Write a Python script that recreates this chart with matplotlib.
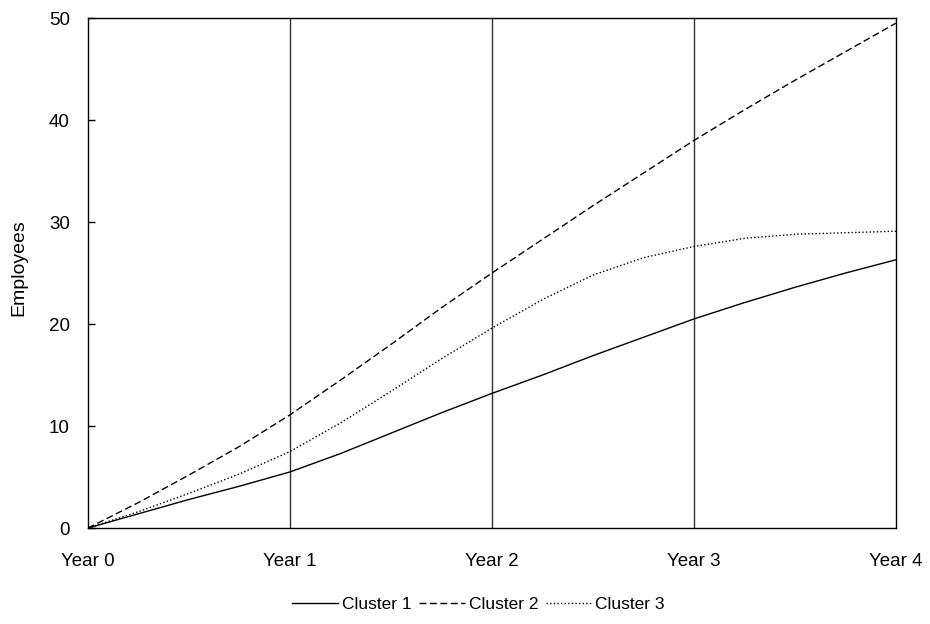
import matplotlib.pyplot as plt

# quarterly points, years 0..4
quarters = [0, 0.25, 0.5, 0.75, 1, 1.25, 1.5, 1.75, 2,
            2.25, 2.5, 2.75, 3, 3.25, 3.5, 3.75, 4]
cluster_1 = [0, 1.4, 2.8, 4.1, 5.5, 7.3, 9.3, 11.3, 13.2,
             15.0, 16.9, 18.7, 20.5, 22.1, 23.6, 25.0, 26.3]
cluster_2 = [0, 2.5, 5.2, 8.0, 11.1, 14.5, 18.0, 21.6, 25.0,
             28.3, 31.6, 34.8, 38.0, 41.0, 43.9, 46.7, 49.5]
cluster_3 = [0, 1.6, 3.4, 5.3, 7.5, 10.3, 13.4, 16.6, 19.6,
             22.4, 24.8, 26.5, 27.6, 28.4, 28.8, 28.95, 29.1]

year_ticks = [0, 1, 2, 3, 4]
year_labels = ["Year 0", "Year 1", "Year 2", "Year 3", "Year 4"]
y_ticks = [0, 10, 20, 30, 40, 50]

plt.rcParams["font.family"] = ["Liberation Sans", "DejaVu Sans"]

fig = plt.figure(figsize=(9.3, 6.24), dpi=100)
ax = fig.add_axes([0.0946, 0.1538, 0.8688, 0.8173])

# vertical year dividers
for yr in year_ticks[1:-1]:
    ax.axvline(yr, color="#333333", lw=1.0, zorder=1)

ax.plot(quarters, cluster_1, color="black", lw=1.0, label="Cluster 1", zorder=3)
ax.plot(quarters, cluster_2, color="black", lw=1.0, dashes=(5, 2.5),
        label="Cluster 2", zorder=3)
ax.plot(quarters, cluster_3, color="black", lw=1.0, dashes=(1, 1.6),
        label="Cluster 3", zorder=3)

ax.set_xlim(0, 4)
ax.set_ylim(0, 50)
ax.set_xticks(year_ticks)
ax.set_xticklabels(year_labels)
ax.set_yticks(y_ticks)
ax.tick_params(axis="x", length=0, pad=18, labelsize=13.5)
ax.tick_params(axis="y", direction="in", length=5, width=1, pad=13, labelsize=13.5)
ax.set_ylabel("Employees", fontsize=14)
ax.yaxis.set_label_coords(-0.0755, 0.51)

for spine in ax.spines.values():
    spine.set_linewidth(1.0)
    spine.set_color("black")

fig.legend(
    loc="center",
    bbox_to_anchor=(0.5145, 0.032),
    ncol=3,
    frameon=False,
    fontsize=12.5,
    handlelength=2.65,
    handletextpad=0.2,
    columnspacing=0.45,
)

fig.savefig("out.png", dpi=100, facecolor="white")
plt.close(fig)
